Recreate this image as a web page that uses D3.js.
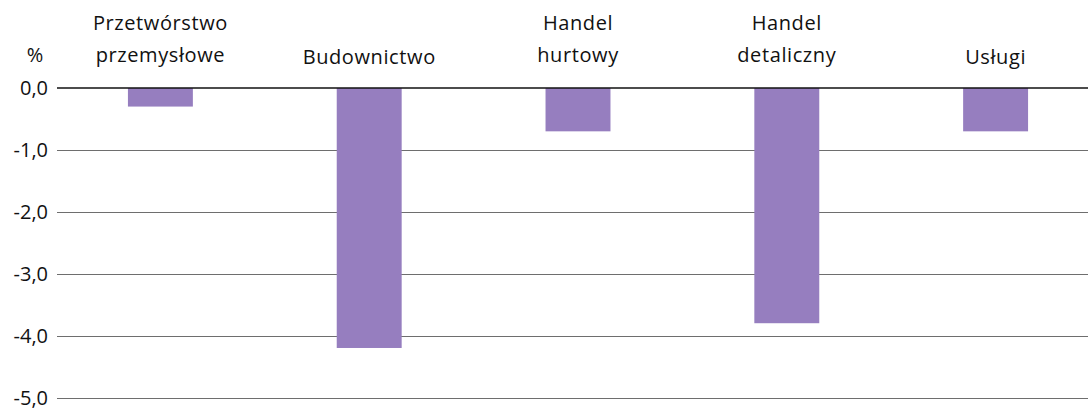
<!DOCTYPE html>
<html>
<head>
<meta charset="utf-8">
<script src="https://cdn.jsdelivr.net/npm/d3@7"></script>
<style>
  body { margin: 0; background: #fff; overflow: hidden; }
  text { font-family: "Open Sans", "Noto Sans", sans-serif; fill: #111; }
</style>
</head>
<body>
<div id="plot"></div>
<script>
// data
var categories = [
  ['Przetwórstwo', 'przemysłowe'],
  ['Budownictwo'],
  ['Handel', 'hurtowy'],
  ['Handel', 'detaliczny'],
  ['Usługi']
];
var values = [-0.3, -4.2, -0.7, -3.8, -0.7];
var yTicks = [0, -1, -2, -3, -4, -5];

var W = 1088, H = 408;
var left = 57;

var svg = d3.select('#plot').append('svg')
  .attr('width', W).attr('height', H);

// band range runs a little past the right edge, as in the original
var x = d3.scaleBand()
  .domain(d3.range(categories.length))
  .range([56, 1100])
  .paddingInner(0.689)
  .paddingOuter(0.3445);

var y = d3.scaleLinear()
  .domain([0, -5])
  .range([88, 397.5]);

var fmt = function(d){ return d3.format('.1f')(d).replace('.', ',').replace('−', '-'); };

// gridlines
svg.append('g')
  .selectAll('line')
  .data(yTicks.filter(function(d){ return d !== 0; }))
  .enter().append('line')
  .attr('x1', left).attr('x2', W)
  .attr('y1', function(d){ return Math.round(y(d)) + 0.5; })
  .attr('y2', function(d){ return Math.round(y(d)) + 0.5; })
  .attr('stroke', '#6e6e6e').attr('stroke-width', 1);

// bars
svg.append('g')
  .selectAll('rect')
  .data(values)
  .enter().append('rect')
  .attr('x', function(d, i){ return x(i); })
  .attr('width', x.bandwidth())
  .attr('y', y(0))
  .attr('height', function(d){ return y(d) - y(0); })
  .attr('fill', '#967ebf');

// zero line
svg.append('line')
  .attr('x1', left).attr('x2', W)
  .attr('y1', y(0)).attr('y2', y(0))
  .attr('stroke', '#111').attr('stroke-width', 1.6);

// y labels
svg.append('g')
  .selectAll('text')
  .data(yTicks)
  .enter().append('text')
  .attr('x', 48)
  .attr('y', function(d){ return y(d); })
  .attr('dy', '0.35em')
  .attr('text-anchor', 'end')
  .attr('font-size', 20)
  .text(fmt);

svg.append('text')
  .attr('x', 35).attr('y', 62)
  .attr('text-anchor', 'middle')
  .attr('font-size', 20)
  .text('%');

// category labels
var lab = svg.append('g')
  .selectAll('text')
  .data(categories)
  .enter().append('text')
  .attr('text-anchor', 'middle')
  .attr('font-size', 20)
  .attr('letter-spacing', 0.6)
  .attr('transform', function(d, i){ return 'translate(' + (x(i) + x.bandwidth()/2) + ',0)'; });

lab.selectAll('tspan')
  .data(function(d){ return d.map(function(t, j){ return {t:t, j:j, n:d.length}; }); })
  .enter().append('tspan')
  .attr('x', 0)
  .attr('y', function(d){ return d.n === 1 ? 64 : 30 + d.j * 32; })
  .text(function(d){ return d.t; });
</script>
</body>
</html>
